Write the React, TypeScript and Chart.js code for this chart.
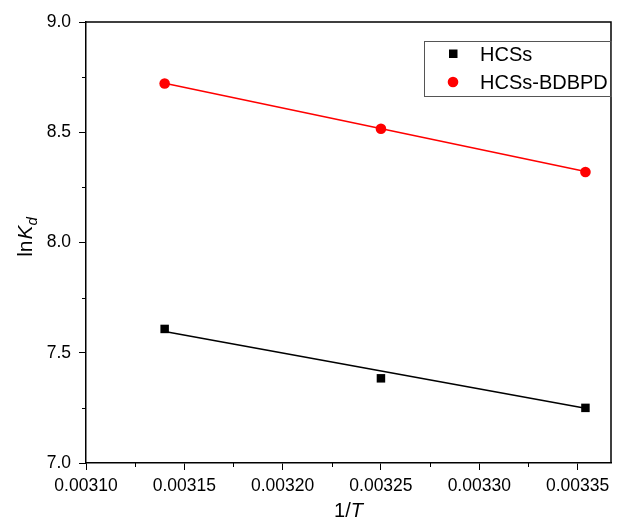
import React, { useEffect, useRef } from "react";
import { Chart, registerables } from "chart.js";

Chart.register(...registerables);

const xValues = [0.00314, 0.00325, 0.003354];
const hcsValues = [7.608, 7.384, 7.25];
const bdbpdValues = [8.721, 8.516, 8.32];
const fitX = [0.00314, 0.003354];
const hcsFit = [7.596, 7.248];
const bdbpdFit = [8.722, 8.322];
const xTicks = [0.0031, 0.00315, 0.0032, 0.00325, 0.0033, 0.00335];
const xMinorTicks = [0.003125, 0.003175, 0.003225, 0.003275, 0.003325];
const yTicks = [7.0, 7.5, 8.0, 8.5, 9.0];
const yMinorTicks = [7.25, 7.75, 8.25, 8.75];
const seriesNames = ["HCSs", "HCSs-BDBPD"];

const FONT = "'Liberation Sans', Arial, sans-serif";

const decorPlugin = {
  id: "decor",
  afterDraw(chart: any) {
    const ctx = chart.ctx;
    const { left, right, top, bottom } = chart.chartArea;
    const xs = chart.scales.x;
    const ys = chart.scales.y;
    ctx.save();
    ctx.strokeStyle = "#000";
    ctx.lineWidth = 1.5;
    ctx.beginPath();
    ctx.moveTo(left, top);
    ctx.lineTo(right, top);
    ctx.lineTo(right, bottom);
    ctx.stroke();
    ctx.lineWidth = 1;
    ctx.beginPath();
    xMinorTicks.forEach((v) => {
      const px = Math.round(xs.getPixelForValue(v)) + 0.5;
      ctx.moveTo(px, bottom);
      ctx.lineTo(px, bottom + 4);
    });
    yMinorTicks.forEach((v) => {
      const py = Math.round(ys.getPixelForValue(v)) + 0.5;
      ctx.moveTo(left, py);
      ctx.lineTo(left - 4, py);
    });
    ctx.stroke();

    ctx.fillStyle = "#000";
    ctx.textBaseline = "alphabetic";
    const fNorm = `20px ${FONT}`;
    const fIt = `italic 20px ${FONT}`;
    ctx.font = fNorm;
    const w1 = ctx.measureText("1/").width;
    ctx.font = fIt;
    const w2 = ctx.measureText("T").width;
    const cx = (left + right) / 2;
    const sx = cx - (w1 + w2) / 2;
    const by = 517;
    ctx.font = fNorm;
    ctx.fillText("1/", sx, by);
    ctx.font = fIt;
    ctx.fillText("T", sx + w1, by);

    ctx.save();
    const yNorm = `21px ${FONT}`;
    const yIt = `italic 21px ${FONT}`;
    const cy = (top + bottom) / 2 - 5;
    ctx.translate(32, cy);
    ctx.rotate(-Math.PI / 2);
    ctx.font = yNorm;
    const a = ctx.measureText("ln").width;
    ctx.font = yIt;
    const b = ctx.measureText("K").width;
    const fSub = `italic 15px ${FONT}`;
    ctx.font = fSub;
    const c = ctx.measureText("d").width;
    const tx = -(a + b + c) / 2;
    ctx.font = yNorm;
    ctx.fillText("ln", tx, 0);
    ctx.font = yIt;
    ctx.fillText("K", tx + a + 1, 0);
    ctx.font = fSub;
    ctx.fillText("d", tx + a + b + 1, 5);
    ctx.restore();

    const lx = 424.5, ly = 41.5, lw = 187, lh = 55;
    ctx.strokeStyle = "#555";
    ctx.lineWidth = 1;
    ctx.strokeRect(lx, ly, lw, lh);
    ctx.fillStyle = "#000";
    ctx.fillRect(449, 49.5, 8.5, 8.5);
    ctx.fillStyle = "#ff0000";
    ctx.beginPath();
    ctx.arc(453, 82, 5.3, 0, Math.PI * 2);
    ctx.fill();
    ctx.fillStyle = "#000";
    ctx.font = `20px ${FONT}`;
    ctx.textBaseline = "middle";
    ctx.fillText(seriesNames[0], 480, 55);
    ctx.fillText(seriesNames[1], 480, 83);
    ctx.restore();
  },
};

export default function App() {
  const ref = useRef<HTMLCanvasElement>(null);
  useEffect(() => {
    document.body.style.margin = "0";
    const canvas = ref.current!;
    const chart = new Chart(canvas, {
      type: "scatter",
      data: {
        datasets: [
          {
            label: seriesNames[0] + " fit",
            data: fitX.map((x, i) => ({ x, y: hcsFit[i] })),
            showLine: true,
            borderColor: "#000",
            borderWidth: 1.6,
            pointRadius: 0,
          },
          {
            label: seriesNames[1] + " fit",
            data: fitX.map((x, i) => ({ x, y: bdbpdFit[i] })),
            showLine: true,
            borderColor: "#ff0000",
            borderWidth: 1.6,
            pointRadius: 0,
          },
          {
            label: seriesNames[0],
            data: xValues.map((x, i) => ({ x, y: hcsValues[i] })),
            pointStyle: "rect",
            pointRadius: 6,
            backgroundColor: "#000",
            borderColor: "#000",
            borderWidth: 0,
          },
          {
            label: seriesNames[1],
            data: xValues.map((x, i) => ({ x, y: bdbpdValues[i] })),
            pointStyle: "circle",
            pointRadius: 5.3,
            backgroundColor: "#ff0000",
            borderColor: "#ff0000",
            borderWidth: 0,
          },
        ],
      },
      options: {
        responsive: false,
        animation: false,
        layout: { padding: { top: 22, right: 4, left: 0, bottom: 0 } },
        plugins: { legend: { display: false }, tooltip: { enabled: false } },
        scales: {
          x: {
            type: "linear",
            min: 0.0031,
            max: 0.003367,
            afterBuildTicks: (s: any) => {
              s.ticks = xTicks.map((v) => ({ value: v }));
            },
            afterFit: (s: any) => {
              s.height = 55;
            },
            grid: {
              display: true,
              drawOnChartArea: false,
              drawTicks: true,
              tickLength: 7,
              color: "#000",
              lineWidth: 1,
            },
            border: { display: true, color: "#000", width: 1.5 },
            ticks: {
              color: "#000",
              font: { family: FONT, size: 17.5 },
              padding: 6,
              maxRotation: 0,
              autoSkip: false,
              callback: (v: any) => Number(v).toFixed(5),
            },
          },
          y: {
            type: "linear",
            min: 7.0,
            max: 9.0,
            afterBuildTicks: (s: any) => {
              s.ticks = yTicks.map((v) => ({ value: v }));
            },
            afterFit: (s: any) => {
              s.width = 86;
            },
            grid: {
              display: true,
              drawOnChartArea: false,
              drawTicks: true,
              tickLength: 7,
              color: "#000",
              lineWidth: 1,
            },
            border: { display: true, color: "#000", width: 1.5 },
            ticks: {
              color: "#000",
              font: { family: FONT, size: 17.5 },
              padding: 8,
              autoSkip: false,
              callback: (v: any) => Number(v).toFixed(1),
            },
          },
        },
      },
      plugins: [decorPlugin],
    });
    return () => chart.destroy();
  }, []);
  return (
    <div style={{ width: 617, height: 518, background: "#fff" }}>
      <canvas ref={ref} width={617} height={518} style={{ display: "block" }} />
    </div>
  );
}
